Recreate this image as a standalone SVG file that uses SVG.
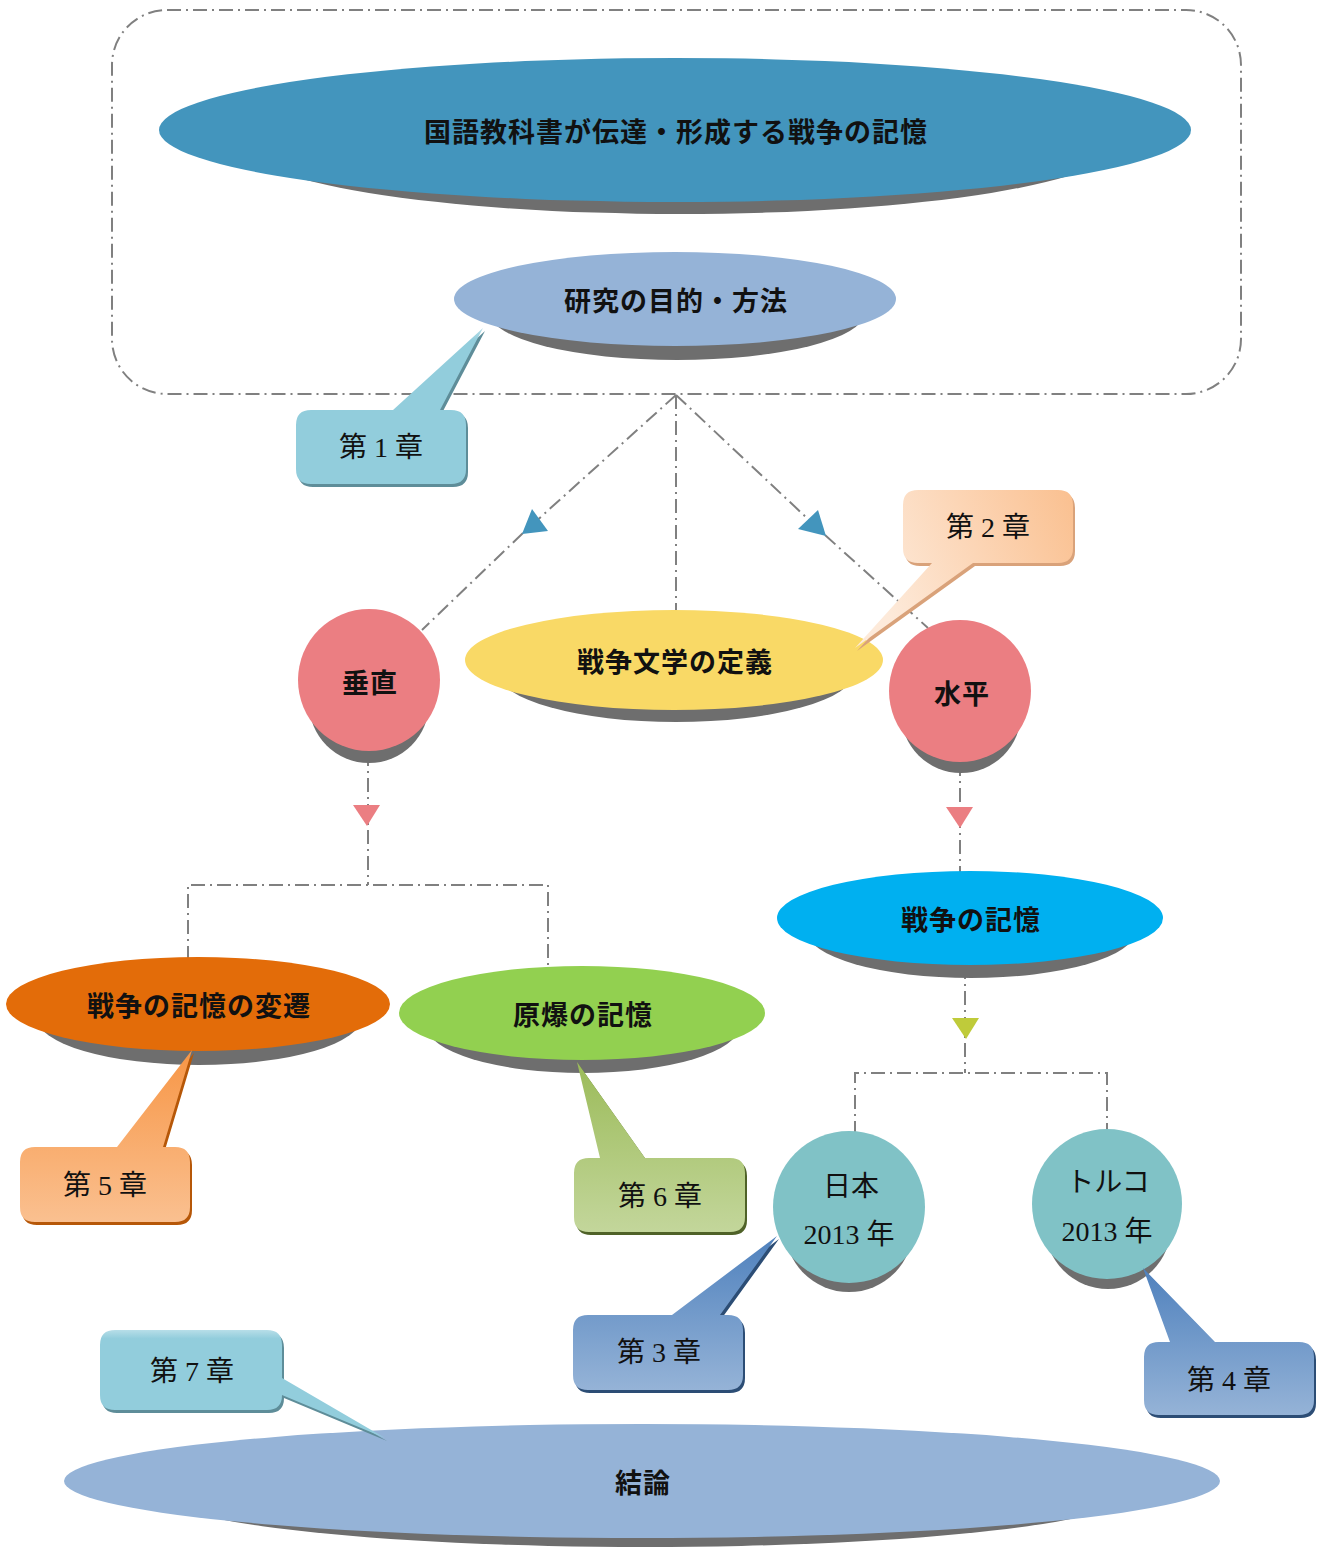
<svg xmlns="http://www.w3.org/2000/svg" width="1324" height="1549" viewBox="0 0 1324 1549">
<style>
.conn{fill:none;stroke:#808080;stroke-width:2;stroke-dasharray:14 5 2 5}
.shd{fill:#6E6E6E}
.nt{font-family:"Noto Sans CJK JP","Noto Sans",sans-serif;font-weight:bold;font-size:27px;letter-spacing:1px;fill:#111;text-anchor:middle;dominant-baseline:central}
.ct{font-family:"Liberation Serif","Noto Sans CJK JP",serif;font-size:28px;fill:#111;text-anchor:middle;dominant-baseline:central}
</style>
<defs>
<linearGradient id="gCyan" x1="0" y1="0" x2="0" y2="1"><stop offset="0" stop-color="#B7DEE8"/><stop offset="0.08" stop-color="#92CDDC"/><stop offset="1" stop-color="#92CDDC"/></linearGradient>
<linearGradient id="gPeach" x1="0" y1="0.3" x2="1" y2="0"><stop offset="0" stop-color="#FDEADA"/><stop offset="0.5" stop-color="#FCD5B5"/><stop offset="1" stop-color="#FAC090"/></linearGradient>
<linearGradient id="gOrange" x1="0" y1="0" x2="0" y2="1"><stop offset="0" stop-color="#F79646"/><stop offset="1" stop-color="#FAC090"/></linearGradient>
<linearGradient id="gGreen" x1="0" y1="0" x2="0" y2="1"><stop offset="0" stop-color="#9BBB59"/><stop offset="1" stop-color="#C3D69B"/></linearGradient>
<linearGradient id="gBlue" x1="0" y1="0" x2="0" y2="1"><stop offset="0" stop-color="#4F81BD"/><stop offset="1" stop-color="#95B3D7"/></linearGradient>
</defs>

<g id="container">
<rect x="112" y="10" width="1129" height="384" rx="55" ry="55" class="conn"/>
</g>

<g id="connectors">
<path class="conn" d="M676,395 L523,533"/>
<path class="conn" d="M523,533 L422,630"/>
<polygon points="522,534 532,509 548,531" fill="#4395BD"/>
<path class="conn" d="M676,395 L825,535"/>
<path class="conn" d="M825,535 L928,628"/>
<polygon points="826,536 798,529 818,510" fill="#4395BD"/>
<path class="conn" d="M676,395 L676,612"/>
<path class="conn" d="M368,752 L368,885"/>
<polygon points="353,805 380,805 367,826" fill="#EB7E82"/>
<path class="conn" d="M188,960 L188,885 L548,885 L548,965"/>
<path class="conn" d="M960,762 L960,872"/>
<polygon points="946,807 973,807 960,828" fill="#EB7E82"/>
<path class="conn" d="M965,965 L965,1073"/>
<polygon points="952,1018 979,1018 966,1039" fill="#BFCB3A"/>
<path class="conn" d="M855,1135 L855,1073 L1107,1073 L1107,1132"/>
</g>

<g id="n-title">
<ellipse class="shd" cx="680" cy="142" rx="440" ry="72"/>
<ellipse cx="675" cy="130" rx="516" ry="72" fill="#4395BD"/>
<text class="nt" x="676" y="130">国語教科書が伝達・形成する戦争の記憶</text>
</g>

<g id="n-purpose">
<ellipse class="shd" cx="677" cy="313" rx="187" ry="47"/>
<ellipse cx="675" cy="299" rx="221" ry="47" fill="#95B3D7"/>
<text class="nt" x="676" y="299">研究の目的・方法</text>
</g>

<g id="n-definition">
<ellipse class="shd" cx="676" cy="672" rx="178" ry="50"/>
<ellipse cx="674" cy="660" rx="209" ry="50" fill="#F9D966"/>
<text class="nt" x="675" y="660">戦争文学の定義</text>
</g>

<g id="n-vertical">
<circle class="shd" cx="369" cy="703" r="60"/>
<circle cx="369" cy="680" r="71" fill="#EB7E82"/>
<text class="nt" x="370" y="681">垂直</text>
</g>

<g id="n-horizontal">
<circle class="shd" cx="961" cy="713" r="60"/>
<circle cx="960" cy="691" r="71" fill="#EB7E82"/>
<text class="nt" x="962" y="692">水平</text>
</g>

<g id="n-transition">
<ellipse class="shd" cx="199" cy="1017" rx="163" ry="48"/>
<ellipse cx="198" cy="1004" rx="192" ry="47" fill="#E36C09"/>
<text class="nt" x="199" y="1004">戦争の記憶の変遷</text>
</g>

<g id="n-atomic">
<ellipse class="shd" cx="583" cy="1026" rx="156" ry="47"/>
<ellipse cx="582" cy="1013" rx="183" ry="47" fill="#92D050"/>
<text class="nt" x="583" y="1013">原爆の記憶</text>
</g>

<g id="n-memory">
<ellipse class="shd" cx="971" cy="931" rx="164" ry="47"/>
<ellipse cx="970" cy="918" rx="193" ry="47" fill="#00B0F0"/>
<text class="nt" x="971" y="918">戦争の記憶</text>
</g>

<g id="n-japan">
<circle class="shd" cx="849" cy="1228" r="64"/>
<circle cx="849" cy="1207" r="76" fill="#80C2C6"/>
<text class="ct" x="851" y="1186">日本</text>
<text class="ct" x="849" y="1234">2013 年</text>
</g>

<g id="n-turkey">
<circle class="shd" cx="1108" cy="1226" r="63"/>
<circle cx="1107" cy="1204" r="75" fill="#80C2C6"/>
<text class="ct" x="1108" y="1182">トルコ</text>
<text class="ct" x="1107" y="1231">2013 年</text>
</g>

<g id="n-conclusion">
<ellipse class="shd" cx="645" cy="1490" rx="495" ry="57"/>
<ellipse cx="642" cy="1481" rx="578" ry="57" fill="#95B3D7"/>
<text class="nt" x="643" y="1481">結論</text>
</g>

<g id="c1">
<path transform="translate(2,3)" fill="#5E8D99" d="M311,410 L393,410 L483,328 L440,410 L451,410 Q466,410 466,425 L466,469 Q466,484 451,484 L311,484 Q296,484 296,469 L296,425 Q296,410 311,410 Z"/>
<path fill="url(#gCyan)" d="M311,410 L393,410 L483,328 L440,410 L451,410 Q466,410 466,425 L466,469 Q466,484 451,484 L311,484 Q296,484 296,469 L296,425 Q296,410 311,410 Z"/>
<text class="ct" x="381" y="447">第 1 章</text>
</g>

<g id="c2">
<path transform="translate(2,3)" fill="#D9A27A" d="M918,490 L1058,490 Q1073,490 1073,505 L1073,548 Q1073,563 1058,563 L973,563 L855,648 L932,563 L918,563 Q903,563 903,548 L903,505 Q903,490 918,490 Z"/>
<path fill="url(#gPeach)" d="M918,490 L1058,490 Q1073,490 1073,505 L1073,548 Q1073,563 1058,563 L973,563 L855,648 L932,563 L918,563 Q903,563 903,548 L903,505 Q903,490 918,490 Z"/>
<text class="ct" x="988" y="527">第 2 章</text>
</g>

<g id="c5">
<path transform="translate(2,3)" fill="#B65708" d="M35,1147 L117,1147 L192,1050 L163,1147 L175,1147 Q190,1147 190,1162 L190,1207 Q190,1222 175,1222 L35,1222 Q20,1222 20,1207 L20,1162 Q20,1147 35,1147 Z"/>
<path fill="url(#gOrange)" d="M35,1147 L117,1147 L192,1050 L163,1147 L175,1147 Q190,1147 190,1162 L190,1207 Q190,1222 175,1222 L35,1222 Q20,1222 20,1207 L20,1162 Q20,1147 35,1147 Z"/>
<text class="ct" x="105" y="1185">第 5 章</text>
</g>

<g id="c6">
<path transform="translate(2,3)" fill="#4F6228" d="M589,1158 L600,1158 L577,1062 L645,1158 L730,1158 Q745,1158 745,1173 L745,1217 Q745,1232 730,1232 L589,1232 Q574,1232 574,1217 L574,1173 Q574,1158 589,1158 Z"/>
<path fill="url(#gGreen)" d="M589,1158 L600,1158 L577,1062 L645,1158 L730,1158 Q745,1158 745,1173 L745,1217 Q745,1232 730,1232 L589,1232 Q574,1232 574,1217 L574,1173 Q574,1158 589,1158 Z"/>
<text class="ct" x="660" y="1196">第 6 章</text>
</g>

<g id="c3">
<path transform="translate(2,3)" fill="#2C4D75" d="M588,1315 L672,1315 L777,1236 L720,1315 L728,1315 Q743,1315 743,1330 L743,1375 Q743,1390 728,1390 L588,1390 Q573,1390 573,1375 L573,1330 Q573,1315 588,1315 Z"/>
<path fill="url(#gBlue)" d="M588,1315 L672,1315 L777,1236 L720,1315 L728,1315 Q743,1315 743,1330 L743,1375 Q743,1390 728,1390 L588,1390 Q573,1390 573,1375 L573,1330 Q573,1315 588,1315 Z"/>
<text class="ct" x="659" y="1352">第 3 章</text>
</g>

<g id="c4">
<path transform="translate(2,3)" fill="#2C4D75" d="M1159,1342 L1170,1342 L1143,1268 L1215,1342 L1299,1342 Q1314,1342 1314,1357 L1314,1400 Q1314,1415 1299,1415 L1159,1415 Q1144,1415 1144,1400 L1144,1357 Q1144,1342 1159,1342 Z"/>
<path fill="url(#gBlue)" d="M1159,1342 L1170,1342 L1143,1268 L1215,1342 L1299,1342 Q1314,1342 1314,1357 L1314,1400 Q1314,1415 1299,1415 L1159,1415 Q1144,1415 1144,1400 L1144,1357 Q1144,1342 1159,1342 Z"/>
<text class="ct" x="1229" y="1380">第 4 章</text>
</g>

<g id="c7">
<path transform="translate(2,3)" fill="#5E8D99" d="M115,1330 L267,1330 Q282,1330 282,1345 L282,1378 L385,1438 L282,1395 Q282,1410 267,1410 L115,1410 Q100,1410 100,1395 L100,1345 Q100,1330 115,1330 Z"/>
<path fill="url(#gCyan)" d="M115,1330 L267,1330 Q282,1330 282,1345 L282,1378 L385,1438 L282,1395 Q282,1410 267,1410 L115,1410 Q100,1410 100,1395 L100,1345 Q100,1330 115,1330 Z"/>
<text class="ct" x="192" y="1371">第 7 章</text>
</g>
</svg>
